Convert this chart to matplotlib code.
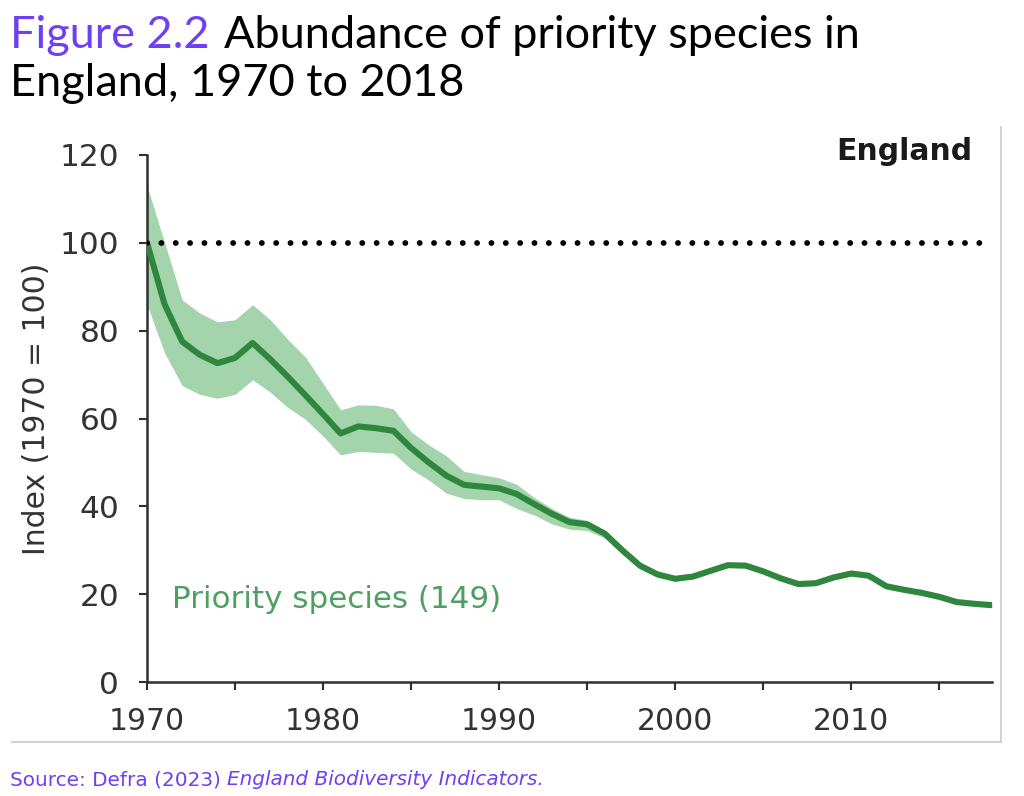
import matplotlib
matplotlib.use("Agg")
import matplotlib.pyplot as plt
from matplotlib.lines import Line2D

# ---- data ----
years = list(range(1970, 2019))
index_values = [100, 86, 77.5, 74.5, 72.6, 73.8, 77.2, 73.5, 69.5, 65.3,
                61, 56.6, 58.2, 57.8, 57.2, 53.3, 50, 47, 44.9, 44.5,
                44.1, 42.8, 40.5, 38.3, 36.4, 35.9, 33.8, 30, 26.5, 24.5,
                23.5, 24, 25.3, 26.6, 26.5, 25.2, 23.6, 22.3, 22.5, 23.8,
                24.7, 24.2, 21.8, 21, 20.3, 19.4, 18.2, 17.8, 17.5]
upper_ci = [113, 100, 87, 84, 82, 82.5, 85.9, 82.5, 78, 74,
            68, 62, 63.1, 63, 62.2, 57, 54, 51.5, 48, 47.2,
            46.5, 45, 42, 39.5, 37.5, 36.8, 34.5, 30.8, 27.2, 25.1,
            24.0, 24.5, 25.8, 27.1, 27.0, 25.7, 24.1, 22.8, 23.0, 24.3,
            25.2, 24.7, 22.3, 21.5, 20.8, 19.9, 18.7, 18.3, 18.0]
lower_ci = [86, 74.9, 67.5, 65.5, 64.6, 65.5, 68.8, 66, 62.5, 59.8,
            56, 51.7, 52.5, 52.3, 52.1, 48.5, 46, 43, 41.8, 41.5,
            41.5, 39.5, 38, 36, 34.8, 34.5, 32.8, 29.2, 25.8, 23.9,
            23.0, 23.5, 24.8, 26.1, 26.0, 24.7, 23.1, 21.8, 22.0, 23.3,
            24.2, 23.7, 21.3, 20.5, 19.8, 18.9, 17.7, 17.3, 17.0]
baseline = 100
yticks = [0, 20, 40, 60, 80, 100, 120]
xticks_major = [1970, 1980, 1990, 2000, 2010]
xticks_minor = [1975, 1985, 1995, 2005, 2015]

title_highlight = "Figure 2.2"
title_line1 = "Abundance of priority species in"
title_line2 = "England, 1970 to 2018"
source_plain = "Source: Defra (2023) "
source_italic = "England Biodiversity Indicators."
series_label = "Priority species (149)"
panel_label = "England"
ylabel = "Index (1970 = 100)"

# ---- style ----
W, H = 1024, 796
LINE_C = "#2e873c"
BAND_C = "#a3d4ac"
LABEL_C = "#4f9f62"
AX_C = "#2f2f2f"
PURPLE = "#6f3ff3"
TICK_FONT = "DejaVu Sans"

fig = plt.figure(figsize=(W / 100, H / 100), dpi=100)
fig.patch.set_facecolor("white")

def px(x, y):
    return x / W, 1 - y / H

ax = fig.add_axes([147 / W, 1 - 682 / H, (992 - 147) / W, (682 - 155) / H])
ax.set_xlim(1970, 2018)
ax.set_ylim(0, 120)

ax.fill_between(years, lower_ci, upper_ci, color=BAND_C, lw=0, zorder=1)
ax.plot(years, index_values, color=LINE_C, lw=4.4, solid_capstyle="round",
        solid_joinstyle="round", zorder=3)
ax.plot([years[0], years[-1]], [baseline, baseline], color="black", lw=4.2,
        ls=(0, (0.01, 2.45)), dash_capstyle="round", zorder=4)

for s in ["top", "right"]:
    ax.spines[s].set_visible(False)
for s in ["left", "bottom"]:
    ax.spines[s].set_color(AX_C)
    ax.spines[s].set_linewidth(1.8)

ax.set_yticks(yticks)
ax.set_yticklabels([str(v) for v in yticks])
ax.set_xticks(xticks_major)
ax.set_xticklabels([str(v) for v in xticks_major])
ax.set_xticks(xticks_minor, minor=True)
ax.tick_params(axis="both", which="both", direction="out", length=6,
               width=1.5, color=AX_C)
ax.tick_params(axis="y", pad=14)
ax.tick_params(axis="x", which="major", pad=12)
for lab in ax.get_yticklabels():
    lab.set_fontfamily(TICK_FONT)
    lab.set_fontsize(22.5)
    lab.set_color("#333333")
for lab in ax.get_xticklabels():
    lab.set_fontfamily(TICK_FONT)
    lab.set_fontsize(21.5)
    lab.set_color("#333333")

fig.text(37 / W, 1 - 409 / H, ylabel, rotation=90, ha="center", va="center",
         fontsize=21.5, family=TICK_FONT, color="#333333")

ax.text(2016.9, 120.7, panel_label, ha="right", va="center", fontsize=21.5,
        fontweight="bold", family=TICK_FONT, color="#1a1a1a")
ax.text(1971.4, 18.7, series_label, ha="left", va="center", fontsize=22.3,
        family=TICK_FONT, color=LABEL_C)

# ---- title ----
TITLE_FONT = "Lato"
TITLE_SIZE = 32.5
fig.canvas.draw()
r = fig.canvas.get_renderer()
t1 = fig.text(*px(10, 48), title_highlight, fontsize=TITLE_SIZE,
              family=TITLE_FONT, color=PURPLE, va="baseline", ha="left")
bb = t1.get_window_extent(renderer=r)
fig.text((bb.x1 + 14) / W, 1 - 48 / H, title_line1, fontsize=TITLE_SIZE,
         family=TITLE_FONT, color="black", va="baseline", ha="left")
fig.text(*px(10, 96), title_line2, fontsize=TITLE_SIZE, family=TITLE_FONT,
         color="black", va="baseline", ha="left")

# ---- source ----
s1 = fig.text(*px(10, 785), source_plain, fontsize=14.4, family="DejaVu Sans",
              color=PURPLE, va="baseline", ha="left")
bb = s1.get_window_extent(renderer=r)
fig.text(bb.x1 / W, 1 - 785 / H, source_italic, fontsize=14.4,
         family="DejaVu Sans", style="italic", color=PURPLE,
         va="baseline", ha="left")

# ---- frame ----
fig.add_artist(Line2D([12 / W, 1001 / W], [1 - 742 / H, 1 - 742 / H],
                      color="#c9c9c9", lw=1.2))
fig.add_artist(Line2D([1001 / W, 1001 / W], [1 - 742 / H, 1 - 127 / H],
                      color="#c9c9c9", lw=1.2))

fig.savefig("out.png", dpi=100, facecolor="white")
